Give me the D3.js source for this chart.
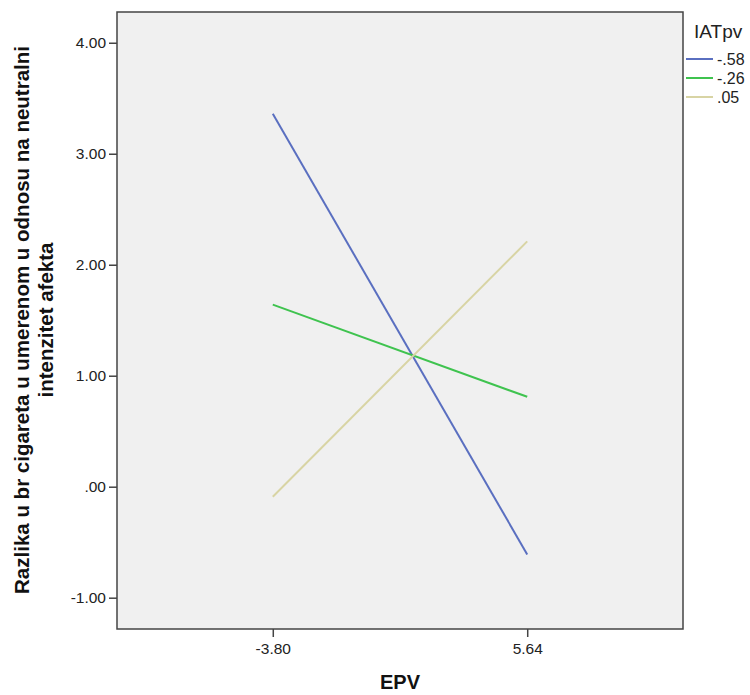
<!DOCTYPE html>
<html><head><meta charset="utf-8">
<script src="https://cdn.jsdelivr.net/npm/d3@7"></script>
<style>body{margin:0;background:#fff;} svg{display:block;font-family:Arial,"Liberation Sans",sans-serif;}</style>
</head><body><svg id="c" width="750" height="695"></svg>
<script>
const xCategories = [-3.80, 5.64];
const xTickLabels = ["-3.80", "5.64"];
const yTicks = [-1, 0, 1, 2, 3, 4];
const yTickLabels = ["-1.00", ".00", "1.00", "2.00", "3.00", "4.00"];
const seriesNames = ["-.58", "-.26", ".05"];
const seriesColors = ["#5a6fc0", "#3fc34f", "#d8d4a4"];
const valuesM58 = [3.36, -0.61];
const valuesM26 = [1.64, 0.81];
const values05 = [-0.09, 2.21];
const seriesValues = [valuesM58, valuesM26, values05];

const svg = d3.select("#c");
const L = 117, R = 683, T = 12, B = 629;
const x = d3.scaleLinear().domain([-9.58, 11.42]).range([L, R]);
const y = d3.scaleLinear().domain([-1.282, 4.277]).range([B, T]);

svg.append("rect").attr("x", L).attr("y", T).attr("width", R - L).attr("height", B - T)
  .attr("fill", "#f0f0f0").attr("stroke", "#444").attr("stroke-width", 1.5);

const FF = "Arial, 'Liberation Sans', sans-serif";
const xAxis = d3.axisBottom(x).tickValues(xCategories).tickFormat((d, i) => xTickLabels[i]).tickSize(8).tickPadding(6);
const gx = svg.append("g").attr("transform", `translate(0,${B})`).call(xAxis);
gx.select(".domain").remove();
gx.selectAll("line").attr("stroke", "#444").attr("stroke-width", 1.5);
gx.selectAll("text").style("font-size", "15.5px").attr("fill", "#222").style("font-family", FF);

const yAxis = d3.axisLeft(y).tickValues(yTicks).tickFormat((d, i) => yTickLabels[i]).tickSize(8).tickPadding(3);
const gy = svg.append("g").attr("transform", `translate(${L},0)`).call(yAxis);
gy.select(".domain").remove();
gy.selectAll("line").attr("stroke", "#444").attr("stroke-width", 1.5);
gy.selectAll("text").style("font-size", "15.5px").attr("fill", "#222").style("font-family", FF);

const line = d3.line().x((d, i) => x(xCategories[i])).y(d => y(d));
seriesValues.forEach((vals, k) => {
  svg.append("path").datum(vals).attr("d", line).attr("fill", "none")
    .attr("stroke", seriesColors[k]).attr("stroke-width", 2);
});

// axis titles
svg.append("text").attr("x", 400).attr("y", 689).attr("text-anchor", "middle")
  .style("font-size", "20px").attr("font-weight", "bold").attr("fill", "#111").text("EPV");
const yl = svg.append("text").attr("transform", "translate(0,320) rotate(-90)")
  .attr("text-anchor", "middle").style("font-size", "20.5px").attr("font-weight", "bold").attr("fill", "#111");
yl.append("tspan").attr("x", 0).attr("y", 29).text("Razlika u br cigareta u umerenom u odnosu na neutralni");
yl.append("tspan").attr("x", 0).attr("y", 53).text("intenzitet afekta");

// legend
const lg = svg.append("g");
lg.append("text").attr("x", 694).attr("y", 38).style("font-size", "19px").attr("fill", "#222").text("IATpv");
const ly = [59, 78, 97];
seriesNames.forEach((n, k) => {
  lg.append("line").attr("x1", 686).attr("x2", 713).attr("y1", ly[k]).attr("y2", ly[k])
    .attr("stroke", seriesColors[k]).attr("stroke-width", 2);
  lg.append("text").attr("x", 717).attr("y", ly[k] + 6).style("font-size", "16px").attr("fill", "#222").text(n);
});
</script></body></html>
